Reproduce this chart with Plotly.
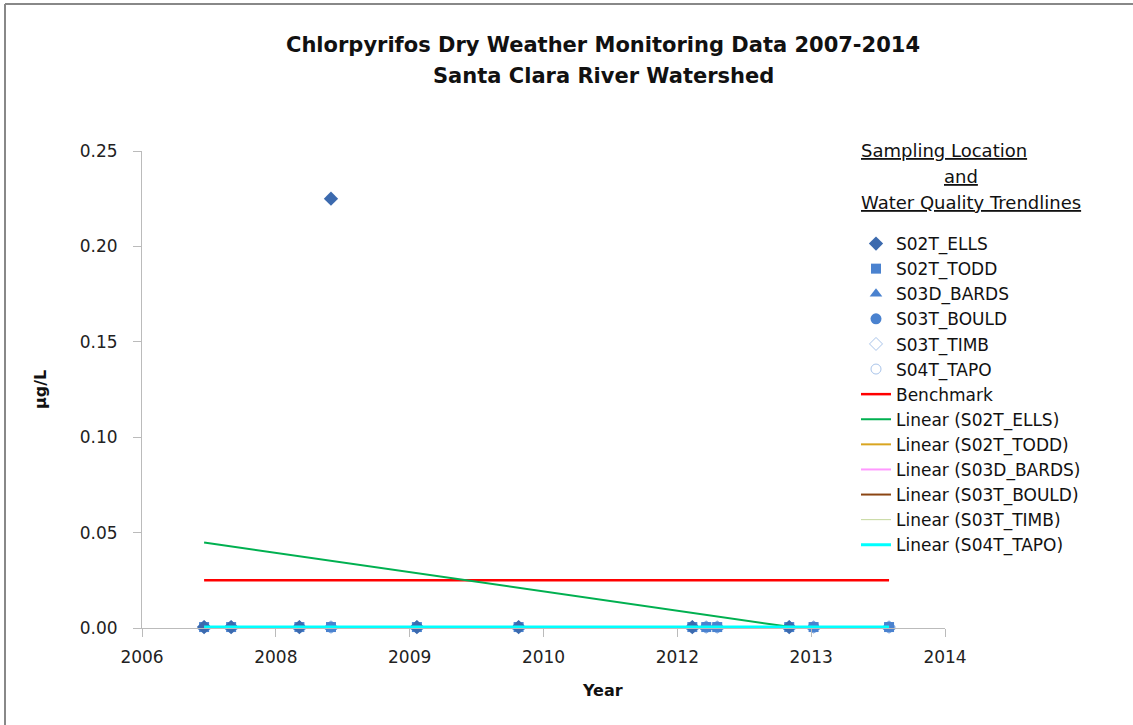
import plotly.graph_objects as go

# ---- data ----
sample_dates = ["2007-05-30", "2007-09-08", "2008-05-20", "2008-09-15", "2009-08-02", "2010-08-17",
                "2012-05-27", "2012-07-18", "2012-08-28", "2013-05-24", "2013-08-23", "2014-06-01"]

ells_dates = ["2007-05-30", "2007-09-08", "2008-05-20", "2008-09-15", "2009-08-02", "2010-08-17",
              "2012-05-27", "2013-05-24"]
ells_vals = [0.0005, 0.0005, 0.0005, 0.225, 0.0005, 0.0005, 0.0005, 0.0005]

todd_vals = [0.0005] * 12
bards_vals = [0.0005] * 12
bould_vals = [0.0005] * 12
timb_vals = [0.0005] * 12
tapo_vals = [0.0005] * 12

bench_dates = ["2007-05-30", "2014-06-01"]
bench_vals = [0.025, 0.025]

trend_ells_dates = ["2007-05-30", "2013-05-24"]
trend_ells_vals = [0.0448, 0.0006]
trend_dates = ["2007-05-30", "2014-06-01"]
trend_todd_vals = [0.0005, 0.0005]
trend_bards_vals = [0.0005, 0.0005]
trend_bould_vals = [0.0005, 0.0005]
trend_timb_vals = [0.0005, 0.0005]
trend_tapo_vals = [0.0005, 0.0005]

FONT = "DejaVu Sans"
W, H = 1133, 725
L, R, T, B = 142, 945, 151, 628

def px(xp):
    return (xp - L) / (R - L)

def py(yp):
    return (B - yp) / (B - T)

fig = go.Figure()

# (name, x, y, marker, legend rank); hollow markers drawn first so filled ones stay visible
marker_series = [
    ("S03T_TIMB", sample_dates, timb_vals, dict(symbol="diamond-open", size=10, color="#A9C4EA"), 5),
    ("S04T_TAPO", sample_dates, tapo_vals, dict(symbol="circle-open", size=10, color="#A9C4EA"), 6),
    ("S03T_BOULD", sample_dates, bould_vals, dict(symbol="circle", size=11, color="#4A82CF"), 4),
    ("S03D_BARDS", sample_dates, bards_vals, dict(symbol="triangle-up", size=11, color="#4A82CF"), 3),
    ("S02T_TODD", sample_dates, todd_vals, dict(symbol="square", size=10, color="#4A82CF"), 2),
    ("S02T_ELLS", ells_dates, ells_vals, dict(symbol="diamond", size=11, color="#3C6AAE"), 1),
]
for name, xs, ys, mk, rank in marker_series:
    fig.add_trace(go.Scatter(x=xs, y=ys, mode="markers", name=name, marker=mk, cliponaxis=False,
                             legendrank=rank))

line_series = [
    ("Benchmark", bench_dates, bench_vals, "#FF0000", 2.5),
    ("Linear (S02T_ELLS)", trend_ells_dates, trend_ells_vals, "#00B050", 2),
    ("Linear (S02T_TODD)", trend_dates, trend_todd_vals, "#D9A520", 2),
    ("Linear (S03D_BARDS)", trend_dates, trend_bards_vals, "#FF99FF", 2),
    ("Linear (S03T_BOULD)", trend_dates, trend_bould_vals, "#8B4513", 2),
    ("Linear (S03T_TIMB)", trend_dates, trend_timb_vals, "#C4D79B", 1),
    ("Linear (S04T_TAPO)", trend_dates, trend_tapo_vals, "#00FFFF", 3),
]
for i, (name, xs, ys, col, w) in enumerate(line_series):
    fig.add_trace(go.Scatter(x=xs, y=ys, mode="lines", name=name, line=dict(color=col, width=w),
                             cliponaxis=False, legendrank=10 + i))

legend_head = [("Sampling Location", 859, 150), ("and", 942, 176), ("Water Quality Trendlines", 859, 202)]
title_lines = [("Chlorpyrifos Dry Weather Monitoring Data 2007-2014", 45),
               ("Santa Clara River Watershed", 76)]

annotations = []
for txt, yy in title_lines:
    annotations.append(dict(text="<b>%s</b>" % txt, xref="paper", yref="paper", x=px(603), y=py(yy),
                            xanchor="center", yanchor="middle", showarrow=False,
                            font=dict(family=FONT, size=21, color="#111")))
for txt, xx, yy in legend_head:
    annotations.append(dict(text="<u>%s</u>" % txt, xref="paper", yref="paper", x=px(xx), y=py(yy),
                            xanchor="left", yanchor="middle", showarrow=False,
                            font=dict(family=FONT, size=18, color="#111")))
annotations += [
    dict(text="<b>Year</b>", xref="paper", yref="paper", x=px(602), y=py(690),
         xanchor="center", yanchor="middle", showarrow=False,
         font=dict(family=FONT, size=16, color="#111")),
    dict(text="<b>µg/L</b>", xref="paper", yref="paper", x=px(40), y=py(390),
         xanchor="center", yanchor="middle", showarrow=False, textangle=-90,
         font=dict(family=FONT, size=16, color="#111")),
]

fig.update_layout(
    width=W, height=H,
    margin=dict(l=L, r=W - R, t=T, b=H - B),
    paper_bgcolor="white", plot_bgcolor="white",
    font=dict(family=FONT, size=17, color="#222"),
    showlegend=True,
    legend=dict(x=px(856), y=py(226), xanchor="left", yanchor="top",
                font=dict(family=FONT, size=17, color="#111"),
                itemwidth=30, bgcolor="rgba(0,0,0,0)", tracegroupgap=0),
    xaxis=dict(type="date", range=["2006-10-10", "2014-12-27"],
               tick0="2006-10-10", dtick=500 * 86400000, tickformat="%Y",
               showgrid=False, zeroline=False, showline=True, linecolor="#BBBBBB", linewidth=1,
               ticks="outside", ticklen=8, tickcolor="#BBBBBB", ticklabelstandoff=6,
               tickfont=dict(family=FONT, size=17, color="#222")),
    yaxis=dict(range=[0, 0.25], tick0=0, dtick=0.05, tickformat=".2f",
               showgrid=False, zeroline=False, showline=True, linecolor="#BBBBBB", linewidth=1,
               ticks="outside", ticklen=8, tickcolor="#BBBBBB", ticklabelstandoff=12,
               tickfont=dict(family=FONT, size=17, color="#222")),
    annotations=annotations,
    shapes=[
        dict(type="line", xref="paper", yref="paper", x0=px(5), x1=px(5), y0=py(4), y1=py(725),
             line=dict(color="#888888", width=2)),
        dict(type="line", xref="paper", yref="paper", x0=px(5), x1=px(1133), y0=py(4), y1=py(4),
             line=dict(color="#888888", width=2)),
    ],
)

fig.write_html("out.html", config={"displayModeBar": False},
               post_script="document.body.style.margin='0px';")
